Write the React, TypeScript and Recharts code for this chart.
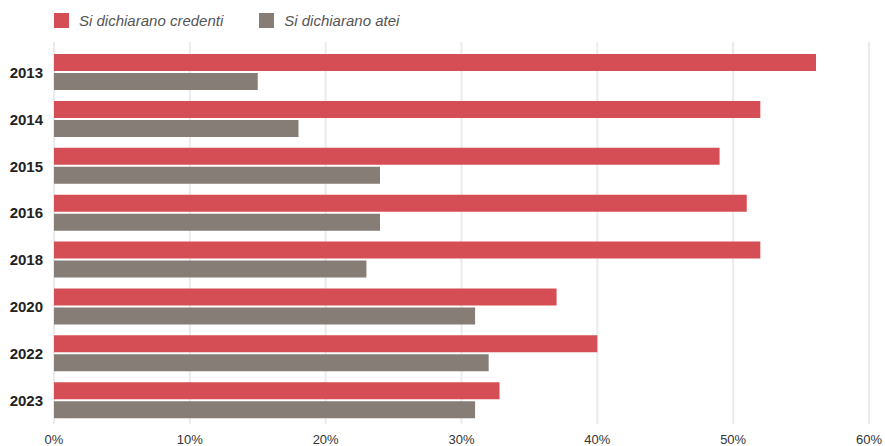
import React from 'react';
import { BarChart, Bar, XAxis, YAxis, CartesianGrid } from 'recharts';

const years = ['2013', '2014', '2015', '2016', '2018', '2020', '2022', '2023'];
const credenti = [56.1, 52, 49, 51, 52, 37, 40, 32.8];
const atei = [15, 18, 24, 24, 23, 31, 32, 31];
const xTicks = [0, 10, 20, 30, 40, 50, 60];

const COLORS = {
    credenti: '#d64e55',
    atei: '#867e76',
};

const series = [
    { dataKey: 'credenti', name: 'Si dichiarano credenti', color: COLORS.credenti },
    { dataKey: 'atei', name: 'Si dichiarano atei', color: COLORS.atei },
];

const data = years.map((year, i) => ({
    year,
    credenti: credenti[i],
    atei: atei[i],
}));

const font = 'Liberation Sans, Arial, Helvetica, sans-serif';

export default function App() {
    return (
        <div style={{ position: 'relative', width: 885, height: 446, fontFamily: font }}>
            <style>{'body { margin: 0; }'}</style>
            <div style={{ position: 'absolute', top: 12, left: 54, display: 'flex', alignItems: 'center' }}>
                {series.map(s => (
                    <div key={s.dataKey} style={{ display: 'flex', alignItems: 'center', marginRight: 36 }}>
                        <span style={{ width: 15, height: 15, background: s.color, display: 'inline-block', marginRight: 10 }} />
                        <span style={{ fontSize: 15, fontStyle: 'italic', color: '#555' }}>{s.name}</span>
                    </div>
                ))}
            </div>
            <BarChart
                width={885}
                height={446}
                data={data}
                layout="vertical"
                barSize={17}
                barGap={2}
                margin={{ top: 42, right: 16, left: 0, bottom: 0 }}
            >
                <CartesianGrid horizontal={false} stroke="#ebebeb" strokeWidth={2} />
                <XAxis
                    type="number"
                    domain={[0, 60]}
                    ticks={xTicks}
                    tickFormatter={(v: number) => `${v}%`}
                    axisLine={false}
                    tickLine={false}
                    tickSize={0}
                    tickMargin={11}
                    height={22}
                    interval={0}
                    tick={{ fontSize: 13, fill: '#333', fontFamily: font }}
                />
                <YAxis
                    type="category"
                    dataKey="year"
                    width={54}
                    axisLine={false}
                    tickLine={false}
                    tickSize={0}
                    tickMargin={11}
                    padding={{ top: 7, bottom: 0 }}
                    tick={{ fontSize: 15, fontWeight: 'bold', fill: '#222', fontFamily: font }}
                />
                {series.map(s => (
                    <Bar
                        key={s.dataKey}
                        dataKey={s.dataKey}
                        name={s.name}
                        fill={s.color}
                        isAnimationActive={false}
                    />
                ))}
            </BarChart>
        </div>
    );
}
